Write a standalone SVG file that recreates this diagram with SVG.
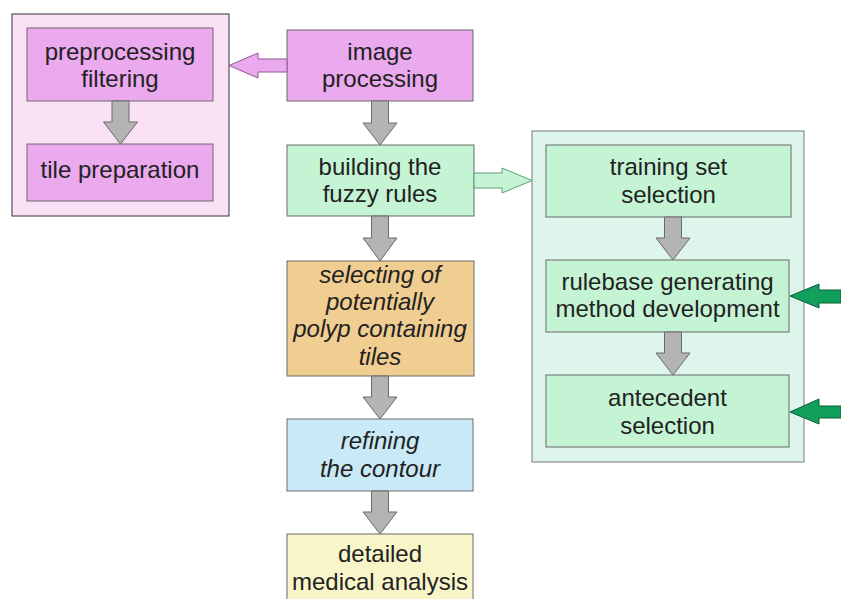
<svg xmlns="http://www.w3.org/2000/svg" width="841" height="599" viewBox="0 0 841 599">
<style>
.t{font-family:"Liberation Sans",Arial,sans-serif;font-size:24px;fill:#222;text-anchor:middle}
.i{font-style:italic}
.box{stroke:#6b6b6b;stroke-width:1}
.pink{fill:#eba9ee}
.green{fill:#c5f4d5}
.gray{fill:#b4b4b4;stroke:#6a6a6a;stroke-width:1}
</style>
<rect width="841" height="599" fill="#fff"/>
<g id="group-preprocessing">
<rect x="12" y="14" width="217" height="202" fill="#fbe1f6" stroke="#333" stroke-width="1"/>
</g>
<g id="group-fuzzy">
<rect x="532" y="131" width="272" height="331" fill="#ddf5eb" stroke="#7a7a7a" stroke-width="1"/>
</g>
<g id="node-preprocessing-filtering">
<rect class="box pink" x="27" y="28" width="186" height="73"/>
<text class="t" x="120" y="60">preprocessing</text>
<text class="t" x="120" y="87">filtering</text>
</g>
<g id="node-tile-preparation">
<rect class="box pink" x="27" y="144" width="186" height="57"/>
<text class="t" x="120" y="178">tile preparation</text>
</g>
<g id="node-image-processing">
<rect class="box pink" x="287" y="30" width="186" height="71"/>
<text class="t" x="380" y="60">image</text>
<text class="t" x="380" y="87">processing</text>
</g>
<g id="node-building">
<rect class="box green" x="287" y="145" width="187" height="71"/>
<text class="t" x="380" y="175">building the</text>
<text class="t" x="380" y="202">fuzzy rules</text>
</g>
<g id="node-selecting">
<rect class="box" fill="#f0cd91" x="287" y="261" width="187" height="115"/>
<text class="t i" x="380" y="283">selecting of</text>
<text class="t i" x="380" y="310">potentially</text>
<text class="t i" x="380" y="337">polyp containing</text>
<text class="t i" x="380" y="365">tiles</text>
</g>
<g id="node-refining">
<rect class="box" fill="#c9e9f6" x="287" y="419" width="186" height="72"/>
<text class="t i" x="380" y="449">refining</text>
<text class="t i" x="380" y="477">the contour</text>
</g>
<g id="node-detailed">
<rect class="box" fill="#f8f5c9" x="287" y="534" width="186" height="80"/>
<text class="t" x="380" y="562">detailed</text>
<text class="t" x="380" y="590">medical analysis</text>
</g>
<g id="node-training">
<rect class="box green" x="546" y="145" width="245" height="72"/>
<text class="t" x="668.5" y="175">training set</text>
<text class="t" x="668.5" y="203">selection</text>
</g>
<g id="node-rulebase">
<rect class="box green" x="546" y="260" width="243" height="72"/>
<text class="t" x="667.5" y="290">rulebase generating</text>
<text class="t" x="667.5" y="317">method development</text>
</g>
<g id="node-antecedent">
<rect class="box green" x="546" y="375" width="243" height="72"/>
<text class="t" x="667.5" y="406">antecedent</text>
<text class="t" x="667.5" y="434">selection</text>
</g>
<g id="connectors">
<path class="gray" d="M112,101 H129 V122 H137.5 L120.5,144 L103.5,122 H112 Z"/>
<path class="gray" d="M371.5,101 H388.5 V123 H397 L380,145 L363,123 H371.5 Z"/>
<path class="gray" d="M371.5,216 H388.5 V238 H397 L380,261 L363,238 H371.5 Z"/>
<path class="gray" d="M371.5,376 H388.5 V397 H397 L380,419 L363,397 H371.5 Z"/>
<path class="gray" d="M371.5,491 H388.5 V512 H397 L380,534 L363,512 H371.5 Z"/>
<path class="gray" d="M664.5,217 H681.5 V238 H690 L673,260 L656,238 H664.5 Z"/>
<path class="gray" d="M664.5,332 H681.5 V353 H690 L673,375 L656,353 H664.5 Z"/>
<path d="M287,59 H258 V53 L229,65.5 L258,78 V72 H287 Z" fill="#eba9ee" stroke="#8c5a8e" stroke-width="1"/>
<path d="M474,173 H502 V168 L532,180.5 L502,193 V188 H474 Z" fill="#c5f4d5" stroke="#5e9e78" stroke-width="1"/>
<path d="M841,290 H819 V284 L790,296 L819,308 V303 H841 Z" fill="#11a05c" stroke="#0b5e37" stroke-width="1"/>
<path d="M841,406 H819 V399 L790,412 L819,424 V418 H841 Z" fill="#11a05c" stroke="#0b5e37" stroke-width="1"/>
</g>
</svg>
